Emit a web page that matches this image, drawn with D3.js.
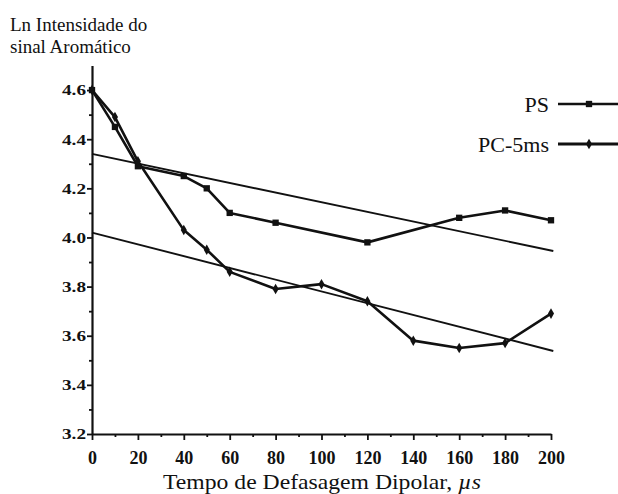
<!DOCTYPE html>
<html>
<head>
<meta charset="utf-8">
<script src="https://cdn.jsdelivr.net/npm/d3@7"></script>
<style>
  html, body { margin: 0; padding: 0; background: #fff; }
  svg { display: block; }
  text { font-family: "Liberation Serif", "Times New Roman", serif; fill: #111; }
</style>
</head>
<body>
<svg id="chart" width="618" height="494"></svg>
<script>
// Dipolar dephasing time (µs)
const timesPS = [0, 10, 20, 40, 50, 60, 80, 120, 160, 180, 200];
const valuesPS = [4.60, 4.45, 4.29, 4.25, 4.20, 4.10, 4.06, 3.98, 4.08, 4.11, 4.07];

const timesPC = [0, 10, 20, 40, 50, 60, 80, 100, 120, 140, 160, 180, 200];
const valuesPC = [4.60, 4.49, 4.31, 4.03, 3.95, 3.86, 3.79, 3.81, 3.74, 3.58, 3.55, 3.57, 3.69];

// Linear fits (start / end values)
const fitPS = [[0, 4.34], [201, 3.945]];
const fitPC = [[0, 4.02], [201, 3.538]];

const xTicks = [0, 20, 40, 60, 80, 100, 120, 140, 160, 180, 200];
const xMinorTicks = [10, 30, 50, 70, 90, 110, 130, 150, 170, 190];
const yTicks = [3.2, 3.4, 3.6, 3.8, 4.0, 4.2, 4.4, 4.6];
const yMinorTicks = [3.3, 3.5, 3.7, 3.9, 4.1, 4.3, 4.5];

const seriesNames = ["PS", "PC-5ms"];

const svg = d3.select("#chart");
const ink = "#111";

const x = d3.scaleLinear().domain([0, 200]).range([92, 551]);
const y = d3.scaleLinear().domain([3.2, 4.7]).range([434, 65.5]);

// Axes
const xAxis = d3.axisBottom(x).tickValues(xTicks).tickSize(6).tickSizeOuter(0)
  .tickFormat(d3.format("d"));
const gx = svg.append("g").attr("transform", `translate(0,${y(3.2)})`).call(xAxis);
gx.select(".domain").attr("stroke", ink).attr("stroke-width", 2.2);
gx.selectAll(".tick line").attr("stroke", ink).attr("stroke-width", 1.8);
gx.selectAll(".tick text").attr("dy", 0).attr("y", 30)
  .style("font-size", "18px").style("font-weight", "bold").attr("fill", ink);

svg.append("g").attr("transform", `translate(0,${y(3.2)})`)
  .call(d3.axisBottom(x).tickValues(xMinorTicks).tickSize(3).tickFormat(""))
  .call(g => g.select(".domain").remove())
  .selectAll(".tick line").attr("stroke", ink).attr("stroke-width", 1.8);

const yAxis = d3.axisLeft(y).tickValues(yTicks).tickSize(5).tickSizeOuter(0)
  .tickFormat(d3.format(".1f"));
const gy = svg.append("g").attr("transform", `translate(${x(0)},0)`).call(yAxis);
gy.select(".domain").attr("stroke", ink).attr("stroke-width", 2.2);
gy.selectAll(".tick line").attr("stroke", ink).attr("stroke-width", 1.8);
gy.selectAll(".tick text").attr("x", -6)
  .style("font-size", "15px").style("font-weight", "bold").attr("fill", ink)
  .attr("textLength", 24).attr("lengthAdjust", "spacingAndGlyphs");

svg.append("g").attr("transform", `translate(${x(0)},0)`)
  .call(d3.axisLeft(y).tickValues(yMinorTicks).tickSize(3).tickFormat(""))
  .call(g => g.select(".domain").remove())
  .selectAll(".tick line").attr("stroke", ink).attr("stroke-width", 1.8);

// Fit lines
const line = d3.line().x(d => x(d[0])).y(d => y(d[1]));
[fitPS, fitPC].forEach(f => {
  svg.append("path").attr("d", line(f)).attr("fill", "none")
    .attr("stroke", ink).attr("stroke-width", 1.9);
});

// Data series
const ps = timesPS.map((t, i) => [t, valuesPS[i]]);
const pc = timesPC.map((t, i) => [t, valuesPC[i]]);

svg.append("path").attr("d", line(pc)).attr("fill", "none")
  .attr("stroke", ink).attr("stroke-width", 2.6).attr("stroke-linejoin", "round");
svg.append("path").attr("d", line(ps)).attr("fill", "none")
  .attr("stroke", ink).attr("stroke-width", 2.6).attr("stroke-linejoin", "round");

const square = d3.symbol().type(d3.symbolSquare).size(40);
const diamond = d3.symbol().type(d3.symbolDiamond).size(32);

svg.append("g").selectAll("path").data(ps).join("path")
  .attr("d", square).attr("transform", d => `translate(${x(d[0])},${y(d[1])})`)
  .attr("fill", ink);
svg.append("g").selectAll("path").data(pc).join("path")
  .attr("d", diamond).attr("transform", d => `translate(${x(d[0])},${y(d[1])})`)
  .attr("fill", ink);

// Legend
const legend = svg.append("g");
const legendRows = [
  { name: seriesNames[0], sym: square, yPos: 104, w: 2.4 },
  { name: seriesNames[1], sym: diamond, yPos: 144, w: 2.8 }
];
legendRows.forEach(r => {
  legend.append("text").attr("x", 549).attr("y", r.yPos + 7.5)
    .attr("text-anchor", "end").style("font-size", "22px").text(r.name);
  legend.append("line").attr("x1", 558).attr("x2", 618)
    .attr("y1", r.yPos).attr("y2", r.yPos).attr("stroke", ink)
    .attr("stroke-width", r.w);
  legend.append("path").attr("d", r.sym).attr("fill", ink)
    .attr("transform", `translate(589,${r.yPos})`);
});

// Axis titles
const yTitle = svg.append("text").style("font-size", "19px");
yTitle.append("tspan").attr("x", 10).attr("y", 31).text("Ln Intensidade do");
yTitle.append("tspan").attr("x", 10).attr("y", 53).text("sinal Aromático");

const xTitle = svg.append("text").attr("x", 322).attr("y", 489)
  .attr("text-anchor", "middle").style("font-size", "21px")
  .attr("textLength", 318).attr("lengthAdjust", "spacingAndGlyphs");
xTitle.append("tspan").text("Tempo de Defasagem Dipolar,  ");
xTitle.append("tspan").style("font-style", "italic").text("µs");
</script>
</body>
</html>
